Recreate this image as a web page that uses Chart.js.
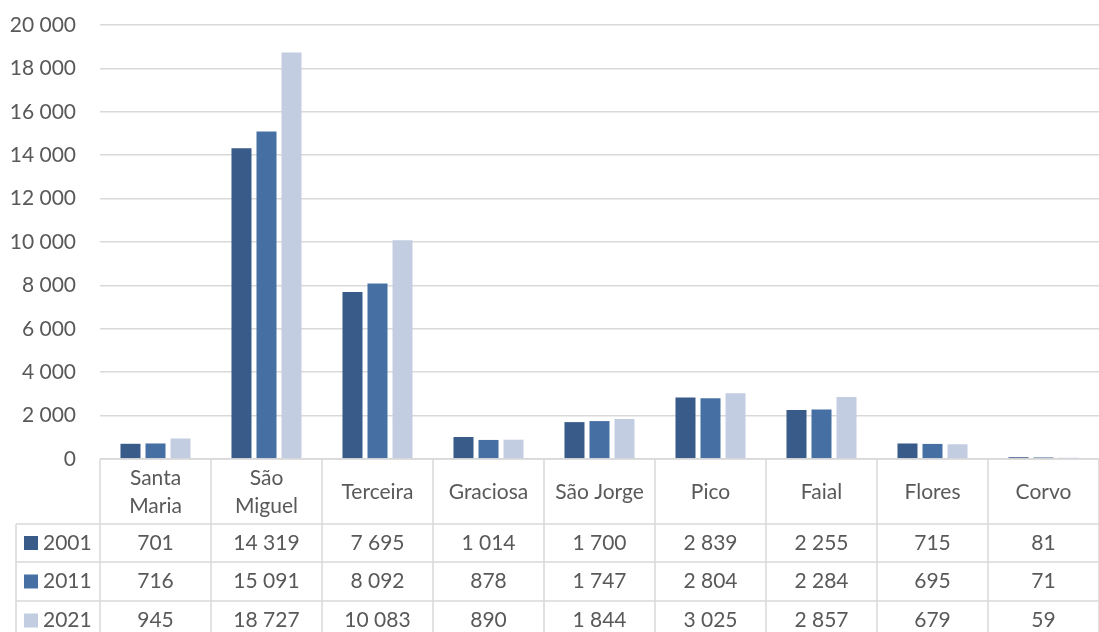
<!DOCTYPE html>
<html>
<head>
<meta charset="utf-8">
<script src="https://cdn.jsdelivr.net/npm/chart.js@4/dist/chart.umd.min.js"></script>
<style>
  body { margin: 0; background: #fff; }
  #wrap { width: 1099px; height: 632px; position: relative; }
</style>
</head>
<body>
<div id="wrap"><canvas id="bars"></canvas></div>
<script>
let categories = [['Santa', 'Maria'], ['São', 'Miguel'], 'Terceira', 'Graciosa', 'São Jorge', 'Pico', 'Faial', 'Flores', 'Corvo'];
let years = ['2001', '2011', '2021'];
let values2001 = [701, 14319, 7695, 1014, 1700, 2839, 2255, 715, 81];
let values2011 = [716, 15091, 8092, 878, 1747, 2804, 2284, 695, 71];
let values2021 = [945, 18727, 10083, 890, 1844, 3025, 2857, 679, 59];
let colors = ['#385b89', '#4670a4', '#c2cde2'];

let textColor = '#595959';
let lineColor = '#d9d9d9';
let font = 'Lato, "DejaVu Sans", sans-serif';

function spaced(v) {
  return String(v).replace(/\B(?=(\d{3})+(?!\d))/g, ' ');
}

// data table under the plot, columns taken from the x scale
let dataTable = {
  id: 'dataTable',
  afterDraw(chart) {
    let ctx = chart.ctx;
    let area = chart.chartArea;
    let x = chart.scales.x;
    let step = (area.right - area.left) / categories.length;
    let top = area.bottom;
    let rowTops = [top, 524, 562, 601, 640];
    let keyLeft = 16;

    ctx.save();
    ctx.strokeStyle = lineColor;
    ctx.lineWidth = 1.5;

    // horizontal lines
    ctx.beginPath();
    ctx.moveTo(area.left, top);
    ctx.lineTo(area.right, top);
    for (let r = 1; r < 4; r++) {
      ctx.moveTo(keyLeft, rowTops[r]);
      ctx.lineTo(area.right, rowTops[r]);
    }
    // vertical lines
    for (let i = 0; i <= categories.length; i++) {
      let px = area.left + i * step;
      ctx.moveTo(px, top);
      ctx.lineTo(px, 640);
    }
    ctx.moveTo(keyLeft, rowTops[1]);
    ctx.lineTo(keyLeft, 640);
    ctx.stroke();

    ctx.fillStyle = textColor;
    ctx.font = '21px ' + font;
    ctx.textAlign = 'center';
    ctx.textBaseline = 'middle';

    // header with category names
    categories.forEach((c, i) => {
      let cx = x.getPixelForValue(i);
      if (Array.isArray(c)) {
        ctx.fillText(c[0], cx, 478);
        ctx.fillText(c[1], cx, 506);
      } else {
        ctx.fillText(c, cx, 492);
      }
    });

    // value rows
    let series = [values2001, values2011, values2021];
    series.forEach((vals, r) => {
      let cy = (rowTops[r + 1] + rowTops[r + 2]) / 2;
      vals.forEach((v, i) => {
        ctx.fillText(spaced(v), x.getPixelForValue(i), cy);
      });
      ctx.fillStyle = colors[r];
      ctx.fillRect(24, cy - 7, 14, 14);
      ctx.fillStyle = textColor;
      ctx.textAlign = 'left';
      ctx.fillText(years[r], 43, cy);
      ctx.textAlign = 'center';
    });
    ctx.restore();
  }
};

let myChart = new Chart(document.getElementById('bars'), {
  type: 'bar',
  data: {
    labels: categories,
    datasets: [
      { label: years[0], data: values2001, backgroundColor: colors[0] },
      { label: years[1], data: values2011, backgroundColor: colors[1] },
      { label: years[2], data: values2021, backgroundColor: colors[2] },
    ]
  },
  options: {
    animation: false,
    responsive: true,
    maintainAspectRatio: false,
    categoryPercentage: 0.676,
    barPercentage: 0.8,
    layout: {
      padding: { top: 25, bottom: 173, left: 0, right: 0 }
    },
    plugins: {
      legend: { display: false },
      tooltip: { enabled: false }
    },
    scales: {
      x: {
        display: false,
      },
      y: {
        min: 0,
        max: 20000,
        afterFit: scale => {
          scale.width = 100;
          scale.paddingTop = 0;
          scale.paddingBottom = 0;
        },
        border: { display: false },
        grid: {
          color: lineColor,
          lineWidth: 1.5,
          drawTicks: false,
        },
        ticks: {
          stepSize: 2000,
          padding: 24,
          color: textColor,
          font: { family: font, size: 21 },
          callback: v => spaced(v),
        }
      }
    }
  },
  plugins: [dataTable]
});
</script>
</body>
</html>
